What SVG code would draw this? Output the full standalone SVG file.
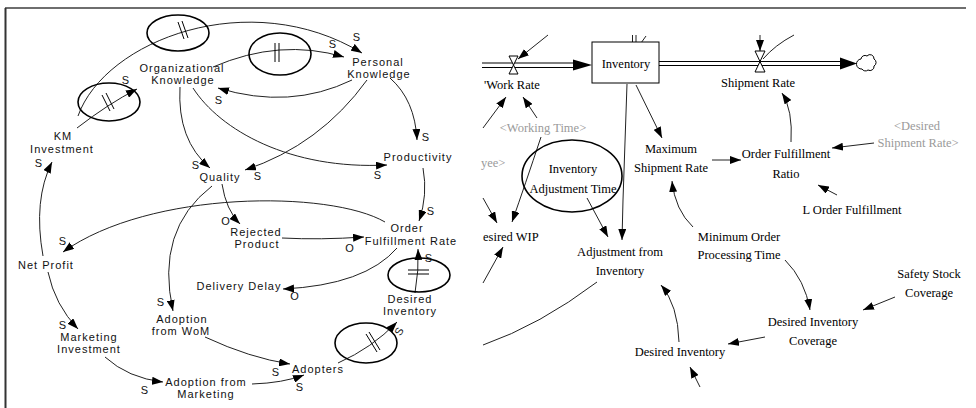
<svg xmlns="http://www.w3.org/2000/svg" width="976" height="408" viewBox="0 0 976 408">
<style>
.l{font-family:"Liberation Sans",Arial,sans-serif;font-size:11px;letter-spacing:1px;text-anchor:middle;fill:#111}
.r{font-family:"Liberation Serif","Times New Roman",serif;font-size:12.5px;text-anchor:middle;fill:#000}
.g{fill:#9a9a9a}
.s{text-anchor:start}
.c{fill:none;stroke:#222;stroke-width:1}
.a{marker-end:url(#ah)}
.d{fill:none;stroke:#000;stroke-width:1.6}
.b{stroke:#000;stroke-width:1;fill:none}
.v{fill:#fff;stroke:#000;stroke-width:1}
.p{stroke:#000;stroke-width:1.2;fill:none}
</style>
<defs>
<marker id="ah" markerUnits="userSpaceOnUse" markerWidth="12" markerHeight="8" refX="11" refY="4" orient="auto"><path d="M0,0 L11,4 L0,8 z" fill="#000"/></marker>
</defs>
<rect width="976" height="408" fill="#fff"/>
<g id="frame">
<line x1="5" y1="8" x2="966" y2="8" stroke="#6e6e6e" stroke-width="2"/>
<line x1="5.5" y1="8" x2="5.5" y2="408" stroke="#333" stroke-width="2"/>
</g>
<g id="connectors">
<path class="c a" d="M78,116 C105,40 250,-15 362,53"/>
<path class="c a" d="M77,128 Q108,104 137,89"/>
<path class="c a" d="M213,67 Q280,38 344,57"/>
<path class="c a" d="M352,80 Q290,110 218,88"/>
<path class="c a" d="M367,80 Q320,145 245,170"/>
<path class="c a" d="M390,78 Q415,100 417,140"/>
<path class="c a" d="M180,87 Q177,140 210,168"/>
<path class="c a" d="M193,88 C220,130 290,170 387,165"/>
<path class="c a" d="M222,184 Q226,210 240,224"/>
<path class="c a" d="M212,186 Q155,230 173,311"/>
<path class="c a" d="M385,222 C330,190 150,190 63,252"/>
<path class="c a" d="M282,238 Q320,240 364,237"/>
<path class="c a" d="M397,248 Q365,285 283,289"/>
<path class="c a" d="M423,168 Q428,195 419,221"/>
<path class="c a" d="M415,293 Q419,270 418,249"/>
<path class="c a" d="M338,363 Q372,348 397,322"/>
<path class="c a" d="M43,256 Q33,200 52,162"/>
<path class="c a" d="M48,272 Q55,305 78,329"/>
<path class="c a" d="M105,357 Q128,378 163,382"/>
<path class="c a" d="M205,337 Q250,358 290,364"/>
<path class="c a" d="M252,384 Q283,383 304,375"/>
<line class="p" x1="482" y1="63" x2="576" y2="63"/>
<line class="p" x1="482" y1="67.5" x2="576" y2="67.5"/>
<path d="M573,59.5 L592,65 L573,70.5 z" fill="#000"/>
<line class="p" x1="659" y1="61.5" x2="842" y2="61.5"/>
<line class="p" x1="659" y1="65.5" x2="842" y2="65.5"/>
<path d="M840,57.5 L857,63.5 L840,69.5 z" fill="#000"/>
<path class="c a" d="M548,35 L518,59"/>
<path class="c a" d="M760,35 L760,51"/>
<path class="c" d="M794,35 Q775,45 763,59"/>
<path class="c a" d="M483,128 L506,97"/>
<path class="c a" d="M537,118 L523,97"/>
<path class="c a" d="M483,198 L497,223"/>
<path class="c a" d="M541,137 Q525,185 512,222"/>
<path class="c a" d="M483,283 L503,247"/>
<path class="c a" d="M636,85 L662,138"/>
<path class="c a" d="M627,84 L623,200 L622,240"/>
<path class="c a" d="M587,198 L608,237"/>
<path class="c" d="M597,282 Q540,325 483,345"/>
<path class="c a" d="M679,342 Q678,305 661,285"/>
<path class="c a" d="M700,387 L690,367"/>
<path class="c a" d="M712,160 L741,160"/>
<path class="c a" d="M874,143 L832,148"/>
<path class="c a" d="M837,195 L818,185"/>
<path class="c a" d="M791,142 Q793,110 782,93"/>
<path class="c a" d="M693,227 Q675,210 672,181"/>
<path class="c a" d="M785,260 Q805,280 810,310"/>
<path class="c a" d="M895,297 L863,310"/>
<path class="c a" d="M765,337 L728,344"/>
<path class="c" d="M632.5,35 L632.5,42 M636,35 L636,42 M641,43 L646,36"/>
</g>
<g id="delay-top"><ellipse class="d" cx="178" cy="33" rx="31" ry="18"/><path class="b" d="M178,22 L184,39 M182,21 L188,38"/></g>
<g id="delay-km"><ellipse class="d" cx="109" cy="102" rx="31" ry="19"/><path class="b" d="M102,95 L110,111 M106,93 L114,109"/></g>
<g id="delay-pk"><ellipse class="d" cx="280" cy="54" rx="31" ry="21"/><path class="b" d="M275,43 L275,62 M279,43 L279,62"/></g>
<g id="delay-di"><ellipse class="d" cx="419" cy="275" rx="31" ry="17"/><path class="b" d="M408,270 L429,270 M408,274 L429,274"/></g>
<g id="delay-ad"><ellipse class="d" cx="366" cy="343" rx="31" ry="20"/><path class="b" d="M366,334 L377,352 M369,332 L380,350"/></g>
<g id="n-org"><text class="l" x="182" y="72">Organizational</text><text class="l" x="183" y="84">Knowledge</text></g>
<g id="n-per"><text class="l" x="378" y="66">Personal</text><text class="l" x="379" y="78">Knowledge</text></g>
<g id="n-km"><text class="l" x="63" y="140">KM</text><text class="l" x="62" y="153">Investment</text></g>
<g id="n-quality"><text class="l" x="220" y="181">Quality</text></g>
<g id="n-prod"><text class="l" x="418" y="161">Productivity</text></g>
<g id="n-ofr"><text class="l" x="407" y="232">Order</text><text class="l" x="411" y="245">Fulfillment Rate</text></g>
<g id="n-rej"><text class="l" x="256" y="236">Rejected</text><text class="l" x="257" y="248">Product</text></g>
<g id="n-dd"><text class="l" x="239" y="290">Delivery Delay</text></g>
<g id="n-di"><text class="l" x="410" y="303">Desired</text><text class="l" x="410" y="315">Inventory</text></g>
<g id="n-np"><text class="l" x="46" y="269">Net Profit</text></g>
<g id="n-wom"><text class="l" x="182" y="323">Adoption</text><text class="l" x="181" y="335">from WoM</text></g>
<g id="n-mi"><text class="l" x="89" y="341">Marketing</text><text class="l" x="89" y="353">Investment</text></g>
<g id="n-afm"><text class="l" x="206" y="386">Adoption from</text><text class="l" x="206" y="398">Marketing</text></g>
<g id="n-adopters"><text class="l" x="318" y="373">Adopters</text></g>
<g id="polarities">
<text class="l" x="357" y="41">S</text>
<text class="l" x="333" y="48">S</text>
<text class="l" x="219" y="104">S</text>
<text class="l" x="126" y="84">S</text>
<text class="l" x="39" y="167">S</text>
<text class="l" x="196" y="169">S</text>
<text class="l" x="258" y="180">S</text>
<text class="l" x="426" y="141">S</text>
<text class="l" x="378" y="179">S</text>
<text class="l" x="431" y="215">S</text>
<text class="l" x="429" y="262">S</text>
<text class="l" x="226" y="225">O</text>
<text class="l" x="350" y="252">O</text>
<text class="l" x="295" y="300">O</text>
<text class="l" x="63" y="245">S</text>
<text class="l" x="63" y="329">S</text>
<text class="l" x="161" y="306">S</text>
<text class="l" x="145" y="394">S</text>
<text class="l" x="276" y="376">S</text>
<text class="l" x="300" y="391">S</text>
<text class="l" transform="translate(399,331) rotate(-60)" x="0" y="4">S</text>
</g>
<g id="n-workrate">
<path class="v" d="M509,56 L518,56 L513.5,65 Z M509,74 L518,74 L513.5,65 Z"/>
<text class="r s" x="484" y="89">'Work Rate</text>
</g>
<g id="n-inventory"><rect x="592" y="42" width="67" height="41" fill="#fff" stroke="#000" stroke-width="1"/><text class="r" x="626" y="68">Inventory</text></g>
<g id="n-shiprate">
<path class="v" d="M755,51 L765,51 L760,61.5 Z M755,72 L765,72 L760,61.5 Z"/>
<text class="r" x="758" y="87">Shipment Rate</text>
</g>
<g id="n-cloud"><path d="M861,59 a4,4 0 0 1 6,-3 a4,4 0 0 1 7,3 a4,4 0 0 1 0,7 a4,4 0 0 1 -6,4 a4,4 0 0 1 -6,-1 a4,4 0 0 1 -1,-10 z" fill="#fff" stroke="#000" stroke-width="1"/></g>
<g id="n-wt"><text class="r g" x="543" y="132">&lt;Working Time&gt;</text></g>
<g id="n-emp"><text class="r g s" x="481" y="167">yee&gt;</text></g>
<g id="n-dsr"><text class="r g" x="917" y="130">&lt;Desired</text><text class="r g" x="918" y="147">Shipment Rate&gt;</text></g>
<g id="n-msr"><text class="r" x="671" y="153">Maximum</text><text class="r" x="671" y="172">Shipment Rate</text></g>
<g id="n-ofratio"><text class="r" x="786" y="158">Order Fulfillment</text><text class="r" x="786" y="178">Ratio</text></g>
<g id="n-lof"><text class="r" x="852" y="214">L Order Fulfillment</text></g>
<g id="n-iat"><ellipse class="d" cx="572" cy="176" rx="50" ry="36"/><text class="r" x="573" y="173">Inventory</text><text class="r" x="573" y="193">Adjustment Time</text></g>
<g id="n-dwip"><text class="r s" x="483" y="241">esired WIP</text></g>
<g id="n-afi"><text class="r" x="620" y="256">Adjustment from</text><text class="r" x="620" y="275">Inventory</text></g>
<g id="n-mopt"><text class="r" x="739" y="241">Minimum Order</text><text class="r" x="739" y="259">Processing Time</text></g>
<g id="n-dinv"><text class="r" x="680" y="356">Desired Inventory</text></g>
<g id="n-dic"><text class="r" x="813" y="326">Desired Inventory</text><text class="r" x="813" y="345">Coverage</text></g>
<g id="n-ssc"><text class="r" x="929" y="278">Safety Stock</text><text class="r" x="929" y="297">Coverage</text></g>
</svg>
